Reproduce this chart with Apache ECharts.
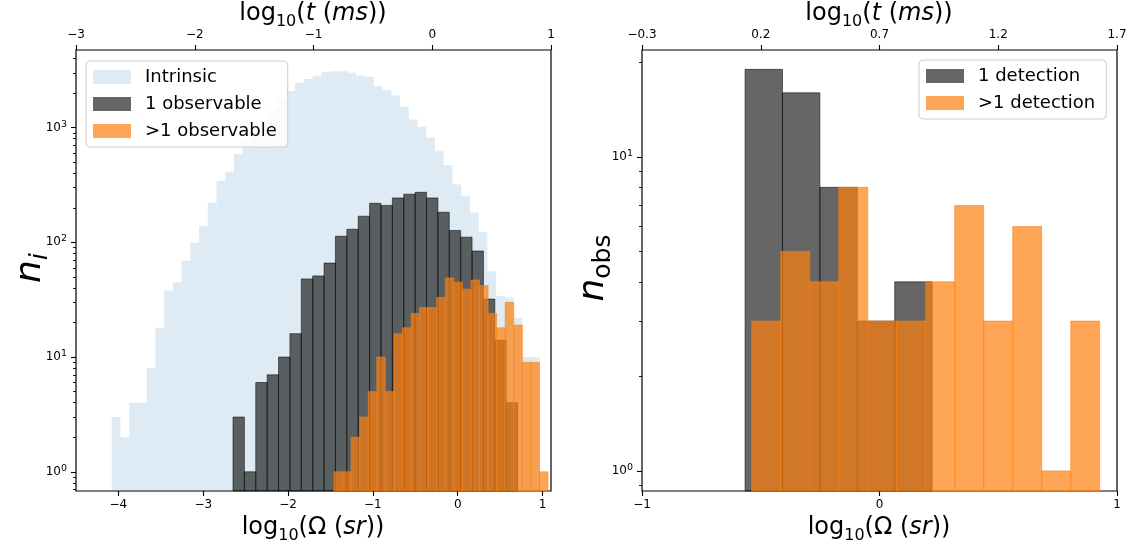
<!DOCTYPE html>
<html>
<head>
<meta charset="utf-8">
<title>n_i / n_obs histograms</title>
<script src="https://cdn.jsdelivr.net/npm/echarts@6/dist/echarts.min.js"></script>
<style>
    html, body { margin: 0; padding: 0; background: #fff; }
    #main { width: 1134px; height: 547px; }
</style>
</head>
<body>
<div id="main"></div>
<script>
// left panel, bins in log10(Omega)
var intrinsicStart = -4.079, intrinsicWidth = 0.103;
var intrinsicCounts = [3, 2, 4, 4, 8, 18, 38, 45, 69, 99,
    139, 223, 342, 413, 589, 769, 1018, 1164, 1446, 1775,
    2083, 2466, 2653, 2836, 3037, 3100, 3100, 3010, 2836, 2770,
    2300, 2130, 1910, 1530, 1180, 1018, 820, 624, 473, 320,
    255, 182, 123, 56, 34, 33, 22, 10, 10];
var oneObsStart = -2.649, oneObsWidth = 0.1342;
var oneObsCounts = [3, 1, 6, 7, 10, 16, 48, 51, 66, 113,
    130, 169, 219, 210, 244, 263, 273, 244, 183, 127,
    111, 84, 32, 14, 4];
var multiObsStart = -1.458, multiObsWidth = 0.1009;
var multiObsCounts = [1, 1, 2, 3, 5, 10, 5, 16, 18, 24,
    27, 27, 33, 49, 45, 39, 47, 42, 24, 18,
    30, 19, 9, 9, 1];

// right panel
var oneDetStart = -0.566, oneDetWidth = 0.1575;
var oneDetCounts = [19, 16, 8, 3, 4];
var multiDetStart = -0.538, multiDetWidth = 0.1221;
var multiDetCounts = [3, 5, 4, 8, 3, 3, 4, 7, 3, 6, 1, 3];

// tick labels
var leftBottomTicks = [-4, -3, -2, -1, 0, 1];
var leftTopTicks = [-3, -2, -1, 0, 1];
var rightBottomTicks = [-1, 0, 1];
var rightTopTicks = [-0.3, 0.2, 0.7, 1.2, 1.7];
var leftDecades = [1, 10, 100, 1000];
var rightDecades = [1, 10];

(function () {
    var myChart = echarts.init(document.getElementById('main'));
    var FONT = 'DejaVu Sans';

    function bins(start, width, counts) {
        return counts.map(function (c, i) {
            return [start + i * width, start + (i + 1) * width, c];
        });
    }
    function minorTicks(decades, lo, hi) {
        var out = [];
        decades.concat([decades[decades.length - 1] * 10]).forEach(function (d) {
            for (var k = 2; k <= 9; k++) {
                var v = d * k / 10;
                if (v >= lo && v <= hi) out.push(v);
            }
        });
        return out;
    }
    function histItem(params, api) {
        var top0 = api.coord([api.value(0), api.value(2)]);
        var top1 = api.coord([api.value(1), api.value(2)]);
        var cs = params.coordSys;
        return {
            type: 'rect',
            shape: { x: top0[0], y: top0[1], width: top1[0] - top0[0], height: cs.y + cs.height - top0[1] },
            style: api.style()
        };
    }
    function minus(v) { return String(v).replace('-', '\u2212'); }
    function pow10(v) {
        return '10{sup|' + Math.round(Math.log(v) / Math.LN10) + '}';
    }

    var tickFont = { fontFamily: FONT, fontSize: 12, color: '#000' };
    function xAxis(grid, pos, min, max, ticks) {
        return {
            gridIndex: grid, type: 'value', position: pos, min: min, max: max,
            axisLine: { show: false, onZero: false },
            axisTick: { customValues: ticks, length: 5, lineStyle: { color: '#000', width: 1.1 } },
            axisLabel: Object.assign({ customValues: ticks, formatter: minus, margin: pos === 'top' ? 9 : 8 }, tickFont),
            splitLine: { show: false }
        };
    }
    function yAxes(grid, min, max, decades) {
        return [{
            gridIndex: grid, type: 'log', logBase: 10, position: 'left', min: min, max: max,
            axisLine: { show: false, onZero: false },
            axisTick: { customValues: decades, length: 5, lineStyle: { color: '#000', width: 1.1 } },
            axisLabel: Object.assign({
                customValues: decades, formatter: pow10, margin: 9,
                rich: { sup: { fontFamily: FONT, fontSize: 9.5, color: '#000', padding: [0, 0, 7, 0] } }
            }, tickFont),
            splitLine: { show: false }
        }, {
            gridIndex: grid, type: 'log', logBase: 10, position: 'left', min: min, max: max,
            axisLine: { show: false, onZero: false },
            axisTick: { customValues: minorTicks(decades, min, max), length: 3, lineStyle: { color: '#000', width: 0.9 } },
            axisLabel: { show: false },
            splitLine: { show: false }
        }];
    }
    function hist(name, xi, yi, data, color, edge, z) {
        return {
            name: name, type: 'custom', xAxisIndex: xi, yAxisIndex: yi, z: z,
            renderItem: histItem, encode: { x: [0, 1], y: 2 }, data: data,
            itemStyle: { color: color, borderColor: edge, borderWidth: edge ? 0.7 : 0 },
            silent: true
        };
    }
    var legendBase = {
        orient: 'vertical', icon: 'rect', itemWidth: 38, itemHeight: 14, itemGap: 7,
        padding: [6, 11, 6, 7], selectedMode: false,
        backgroundColor: 'rgba(255,255,255,0.8)', borderColor: '#cccccc', borderWidth: 1, borderRadius: 4,
        itemStyle: { borderWidth: 0 },
        textStyle: { fontFamily: FONT, fontSize: 18, color: '#000', lineHeight: 20, padding: [0, 0, 0, 9] }
    };
    var labelRich = {
        sub: { fontFamily: FONT, fontSize: 16, verticalAlign: 'bottom', lineHeight: 17, color: '#000' },
        it: { fontFamily: FONT, fontSize: 24, fontStyle: 'italic', color: '#000' }
    };
    function axisTitle(x, y, text) {
        return {
            type: 'text', x: x, y: y,
            style: { text: text, fontFamily: FONT, fontSize: 24, lineHeight: 32, fill: '#000',
                align: 'center', verticalAlign: 'middle', rich: labelRich }
        };
    }

    var option = {
        animation: false,
        grid: [
            { left: 76, top: 50, width: 475, height: 441, show: true, borderColor: '#000', borderWidth: 1.2, backgroundColor: 'transparent' },
            { left: 642, top: 50, width: 475, height: 441, show: true, borderColor: '#000', borderWidth: 1.2, backgroundColor: 'transparent' }
        ],
        xAxis: [
            xAxis(0, 'bottom', -4.5, 1.1, leftBottomTicks),
            xAxis(0, 'top', -3, 1, leftTopTicks),
            xAxis(1, 'bottom', -1, 1, rightBottomTicks),
            xAxis(1, 'top', -0.3, 1.7, rightTopTicks)
        ],
        yAxis: yAxes(0, 0.68, 4750, leftDecades).concat(yAxes(1, 0.863, 21.9, rightDecades)),
        legend: [
            Object.assign({}, legendBase, { left: 86, top: 61, data: ['Intrinsic', '1 observable', '>1 observable'] }),
            Object.assign({}, legendBase, { left: 919, top: 60, data: ['1 detection', '>1 detection'] })
        ],
        graphic: [
            axisTitle(313, 14, 'log{sub|10}({it|t} ({it|ms}))'),
            axisTitle(879, 14, 'log{sub|10}({it|t} ({it|ms}))'),
            axisTitle(313, 528, 'log{sub|10}(\u03a9 ({it|sr}))'),
            axisTitle(879, 528, 'log{sub|10}(\u03a9 ({it|sr}))'),
            {
                type: 'text', x: 31, y: 268, rotation: Math.PI / 2,
                style: { text: '{n|n}{i|i}', align: 'center', verticalAlign: 'middle', fill: '#000',
                    rich: {
                        n: { fontFamily: FONT, fontSize: 36, fontStyle: 'italic', lineHeight: 44 },
                        i: { fontFamily: FONT, fontSize: 25, fontStyle: 'italic', verticalAlign: 'bottom', lineHeight: 24 }
                    } }
            },
            {
                type: 'text', x: 594, y: 268, rotation: Math.PI / 2,
                style: { text: '{n|n}{o|obs}', align: 'center', verticalAlign: 'middle', fill: '#000',
                    rich: {
                        n: { fontFamily: FONT, fontSize: 36, fontStyle: 'italic', lineHeight: 44 },
                        o: { fontFamily: FONT, fontSize: 25, verticalAlign: 'bottom', lineHeight: 24 }
                    } }
            }
        ],
        series: [
            hist('Intrinsic', 0, 0, bins(intrinsicStart, intrinsicWidth, intrinsicCounts), 'rgba(31,119,180,0.15)', null, 1),
            hist('1 observable', 0, 0, bins(oneObsStart, oneObsWidth, oneObsCounts), 'rgba(0,0,0,0.6)', 'rgba(0,0,0,0.75)', 2),
            hist('>1 observable', 0, 0, bins(multiObsStart, multiObsWidth, multiObsCounts), 'rgba(255,127,14,0.7)', 'rgba(255,127,14,0.8)', 3),
            hist('1 detection', 2, 2, bins(oneDetStart, oneDetWidth, oneDetCounts), 'rgba(0,0,0,0.6)', 'rgba(0,0,0,0.75)', 2),
            hist('>1 detection', 2, 2, bins(multiDetStart, multiDetWidth, multiDetCounts), 'rgba(255,127,14,0.7)', 'rgba(255,127,14,0.8)', 3)
        ]
    };

    myChart.setOption(option);
    window.addEventListener('resize', function () {
        myChart.resize();
    });
})();
</script>
</body>
</html>
